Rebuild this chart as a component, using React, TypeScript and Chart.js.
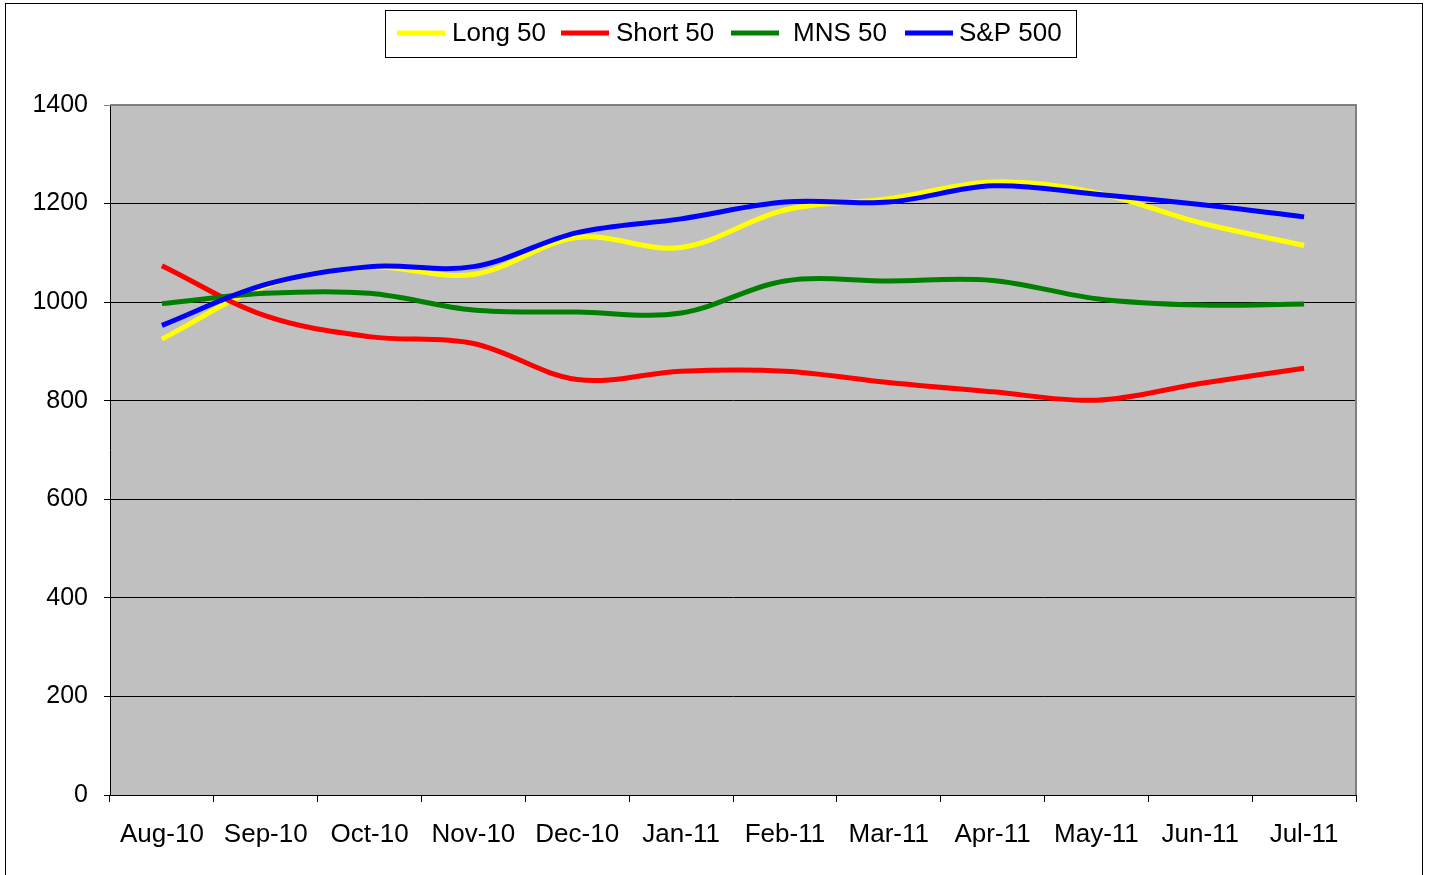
import React, { useEffect, useRef } from "react";
import { Chart, registerables } from "chart.js";

Chart.register(...registerables);

const categories = ["Aug-10", "Sep-10", "Oct-10", "Nov-10", "Dec-10", "Jan-11", "Feb-11", "Mar-11", "Apr-11", "May-11", "Jun-11", "Jul-11"];
const long50 = [925, 1033, 1071, 1056, 1131, 1111, 1187, 1210, 1244, 1222, 1161, 1115];
const short50 = [1074, 972, 930, 916, 843, 860, 860, 837, 818, 801, 835, 866];
const mns50 = [997, 1018, 1018, 984, 980, 978, 1043, 1043, 1044, 1007, 994, 996];
const sp500 = [953, 1036, 1072, 1072, 1141, 1169, 1203, 1203, 1236, 1219, 1198, 1173];
const seriesNames = ["Long 50", "Short 50", "MNS 50", "S&P 500"];
const seriesColors = ["#FFFF00", "#FF0000", "#008000", "#0000FF"];
const yTicks = [0, 200, 400, 600, 800, 1000, 1200, 1400];

const FONT = '"Liberation Sans", Arial, sans-serif';

const framePlugin = {
  id: "frame",
  beforeDraw(chart: any) {
    const { ctx, chartArea } = chart;
    ctx.save();
    ctx.fillStyle = "#FFFFFF";
    ctx.fillRect(0, 0, chart.width, chart.height);
    ctx.fillStyle = "#C0C0C0";
    ctx.fillRect(chartArea.left, chartArea.top, chartArea.right - chartArea.left, chartArea.bottom - chartArea.top);
    ctx.strokeStyle = "#000000";
    ctx.lineWidth = 1;
    ctx.strokeRect(5.5, 3.5, 1417, 1000);
    ctx.restore();
  },
  beforeDatasetsDraw(chart: any) {
    const { ctx, chartArea } = chart;
    ctx.save();
    ctx.strokeStyle = "#808080";
    ctx.lineWidth = 2;
    ctx.beginPath();
    ctx.moveTo(chartArea.left, chartArea.top);
    ctx.lineTo(chartArea.right, chartArea.top);
    ctx.lineTo(chartArea.right, chartArea.bottom);
    ctx.stroke();
    ctx.restore();
  },
  afterDraw(chart: any) {
    const { ctx } = chart;
    ctx.save();
    ctx.strokeStyle = "#000000";
    ctx.lineWidth = 1;
    ctx.strokeRect(385.5, 10.5, 691, 47);
    const sampleStarts = [397, 561, 731, 905];
    const textStarts = [452, 616, 793, 959];
    const cy = 33;
    ctx.font = `26px ${FONT}`;
    ctx.textBaseline = "middle";
    ctx.fillStyle = "#000000";
    seriesNames.forEach((name, i) => {
      const x = sampleStarts[i];
      ctx.strokeStyle = seriesColors[i];
      ctx.lineWidth = 5;
      ctx.beginPath();
      ctx.moveTo(x, cy);
      ctx.lineTo(x + 48, cy);
      ctx.stroke();
      ctx.fillText(name, textStarts[i], cy + 1);
    });
    ctx.restore();
  },
};

export default function App() {
  const ref = useRef<HTMLCanvasElement | null>(null);
  useEffect(() => {
    document.body.style.margin = "0";
    const series = [long50, short50, mns50, sp500];
    const chart = new Chart(ref.current as HTMLCanvasElement, {
      type: "line",
      data: {
        labels: categories,
        datasets: series.map((d, i) => ({
          label: seriesNames[i],
          data: d,
          borderColor: seriesColors[i],
          backgroundColor: seriesColors[i],
          borderWidth: 5,
          pointRadius: 0,
          tension: 0.35,
          fill: false,
          order: 3 - i,
        })),
      },
      options: {
        responsive: false,
        animation: false,
        layout: { padding: { left: 0, top: 105, right: 73, bottom: 0 } },
        plugins: { legend: { display: false }, tooltip: { enabled: false } },
        scales: {
          x: {
            type: "category",
            offset: true,
            grid: { offset: true, drawOnChartArea: false, drawTicks: true, tickLength: 7, color: "#000000" },
            border: { display: true, color: "#000000", width: 1 },
            ticks: { color: "#000000", font: { family: FONT, size: 26 }, padding: 17, maxRotation: 0, autoSkip: false },
            afterFit(scale: any) {
              scale.height = 80;
            },
          },
          y: {
            min: 0,
            max: 1400,
            afterBuildTicks(scale: any) {
              scale.ticks = yTicks.map((v) => ({ value: v }));
            },
            grid: {
              color: (c: any) => (c.tick && c.tick.value === 1400 ? "#808080" : "#000000"),
              tickLength: 6,
              drawTicks: true,
            },
            border: { display: true, color: "#000000", width: 1 },
            ticks: {
              color: "#000000",
              font: { family: FONT, size: 25 },
              padding: 16,
              callback: (v: any) => String(v),
            },
            afterFit(scale: any) {
              scale.width = 110;
            },
          },
        },
      },
      plugins: [framePlugin],
    });
    return () => chart.destroy();
  }, []);
  return <canvas ref={ref} width={1429} height={875} style={{ display: "block" }} />;
}
